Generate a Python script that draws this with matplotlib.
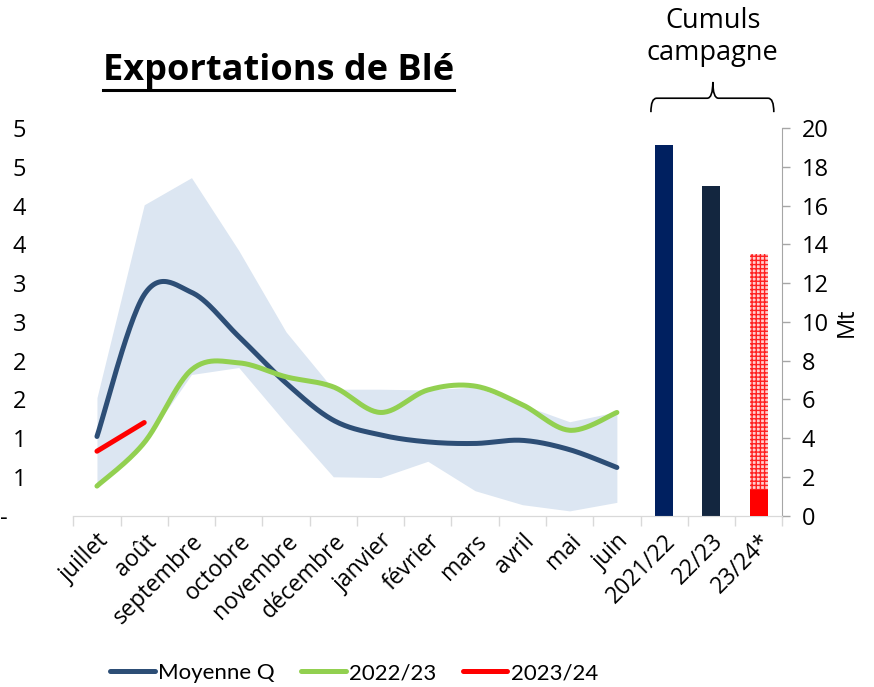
import numpy as np
import matplotlib
matplotlib.use("Agg")
import matplotlib.pyplot as plt
from matplotlib.path import Path
from matplotlib.patches import PathPatch
from matplotlib.lines import Line2D
from matplotlib.ticker import FuncFormatter, MultipleLocator, FixedLocator

plt.rcParams['font.family'] = ['Open Sans', 'DejaVu Sans']

# data
mois = ['juillet', 'août', 'septembre', 'octobre', 'novembre', 'décembre',
        'janvier', 'février', 'mars', 'avril', 'mai', 'juin']
campagnes = ['2021/22', '22/23', '23/24*']

moyenne_q = [1.02, 2.85, 2.88, 2.31, 1.71, 1.23, 1.04, 0.95, 0.93, 0.97, 0.85, 0.62]
y2022 = [0.38, 0.94, 1.88, 1.97, 1.79, 1.66, 1.33, 1.62, 1.67, 1.43, 1.10, 1.33]
y2023 = [0.83, 1.20]
band_max = [1.52, 4.01, 4.36, 3.42, 2.37, 1.63, 1.63, 1.62, 1.66, 1.43, 1.21, 1.34]
band_min = [0.37, 0.94, 1.82, 1.91, 1.19, 0.50, 0.49, 0.70, 0.32, 0.14, 0.06, 0.17]

cumul = [19.1, 17.0, 13.5]      # Mt
cumul_reel = 1.3                # part réalisée 23/24


def smooth(x, y, n=30):
    # bezier smoothing in the style of spreadsheet "smoothed line"
    pts = np.column_stack([x, y]).astype(float)
    pad = np.vstack([pts[0], pts, pts[-1]])
    segs = []
    t = np.linspace(0, 1, n)[:, None]
    for i in range(len(pts) - 1):
        p0, p1, p2, p3 = pad[i], pad[i + 1], pad[i + 2], pad[i + 3]
        c1 = p1 + (p2 - p0) / 6
        c2 = p2 - (p3 - p1) / 6
        segs.append((1 - t) ** 3 * p1 + 3 * (1 - t) ** 2 * t * c1 + 3 * (1 - t) * t ** 2 * c2 + t ** 3 * p2)
    s = np.vstack(segs)
    return s[:, 0], s[:, 1]


fig = plt.figure(figsize=(8.74, 6.87), dpi=100)
ax = fig.add_axes([0.0839, 0.2496, 0.8112, 0.5640])
ax2 = ax.twinx()

xm = np.arange(len(mois))
ax.fill_between(xm, band_min, band_max, color='#DCE6F2', lw=0, zorder=1)

l1, = ax.plot(*smooth(xm, moyenne_q), color='#2D4E76', lw=3.6, solid_capstyle='round', zorder=3)
l2, = ax.plot(*smooth(xm, y2022), color='#92D050', lw=3.6, solid_capstyle='round', zorder=3)
l3, = ax.plot(xm[:len(y2023)], y2023, color='#FF0000', lw=3.6, solid_capstyle='round', zorder=4)

xb = np.arange(len(campagnes)) + len(mois)
ax2.bar(xb[0], cumul[0], width=0.38, color='#002060', zorder=2)
ax2.bar(xb[1], cumul[1], width=0.38, color='#13263F', zorder=2)
ax2.bar(xb[2], cumul[2], width=0.38, color='#FFD0D0', edgecolor='#FF2020', hatch='++++', lw=0, zorder=2)
ax2.bar(xb[2], cumul_reel, width=0.38, color='#FF0000', zorder=3)

ax.set_xlim(-0.5, len(mois) + len(campagnes) - 0.5)
ax.set_ylim(0, 5)
ax2.set_ylim(0, 20)

# left axis: rounded labels, "-" for zero
ax.yaxis.set_major_locator(MultipleLocator(0.5))
ax.yaxis.set_major_formatter(FuncFormatter(lambda v, p: '-   ' if abs(v) < 1e-9 else str(int(np.floor(v + 0.5)))))
ax.tick_params(axis='y', length=0, pad=34, labelsize=17)

ax2.yaxis.set_major_locator(MultipleLocator(2))
ax2.tick_params(axis='y', length=6, width=1, color='#A6A6A6', pad=8, labelsize=17)
ax2.set_ylabel('Mt', fontsize=17, labelpad=4)

labels = mois + campagnes
ax.set_xticks(np.arange(len(labels)))
ax.set_xticklabels(labels, rotation=45, ha='right', va='top', rotation_mode='anchor', fontsize=16.5)
ax.tick_params(axis='x', which='major', length=0, pad=10)
ax.xaxis.set_minor_locator(FixedLocator(np.arange(len(labels) + 1) - 0.5))
ax.tick_params(axis='x', which='minor', length=7, color='#D9D9D9', width=1)

for a in (ax, ax2):
    for s in ('top', 'left'):
        a.spines[s].set_visible(False)
    a.spines['bottom'].set_color('#D9D9D9')
ax.spines['right'].set_visible(False)
ax2.spines['right'].set_color('#A6A6A6')

# title, underlined
title = fig.text(0.319, 0.8836, 'Exportations de Blé', fontsize=26, fontweight='bold',
                 ha='center', va='baseline')
fig.canvas.draw()
bb = title.get_window_extent().transformed(fig.transFigure.inverted())
fig.add_artist(Line2D([bb.x0, bb.x1], [bb.y0 - 0.002, bb.y0 - 0.002], color='black', lw=2.2,
                      transform=fig.transFigure))

# brace + "Cumuls campagne"
tr = ax.get_xaxis_transform()
x0, x1, xc = 11.72, 14.32, 13.03
y0, yb, yt = 1.041, 1.077, 1.119
r = 0.12
verts = [(x0, y0), (x0, yb), (x0 + r, yb), (xc - r, yb), (xc, yb), (xc, yt),
         (xc, yb), (xc + r, yb), (x1 - r, yb), (x1, yb), (x1, y0)]
codes = [Path.MOVETO, Path.CURVE3, Path.CURVE3, Path.LINETO, Path.CURVE3, Path.CURVE3,
         Path.CURVE3, Path.CURVE3, Path.LINETO, Path.CURVE3, Path.CURVE3]
ax.add_patch(PathPatch(Path(verts, codes), transform=tr, fill=False, lw=1.2, color='black', clip_on=False))
ax.text(xc, 1.235, 'Cumuls\ncampagne', transform=tr, ha='center', va='center', fontsize=19.5, linespacing=1.15)

fig.legend([l1, l2, l3], ['Moyenne Q', '2022/23', '2023/24'], loc='center', ncol=3,
           bbox_to_anchor=(0.405, 0.02), frameon=False, handlelength=2.0,
           handletextpad=0.15, columnspacing=1.2,
           prop={'family': ['Liberation Sans Narrow', 'Lato', 'DejaVu Sans'], 'size': 16})

fig.savefig('out.png', dpi=100)
